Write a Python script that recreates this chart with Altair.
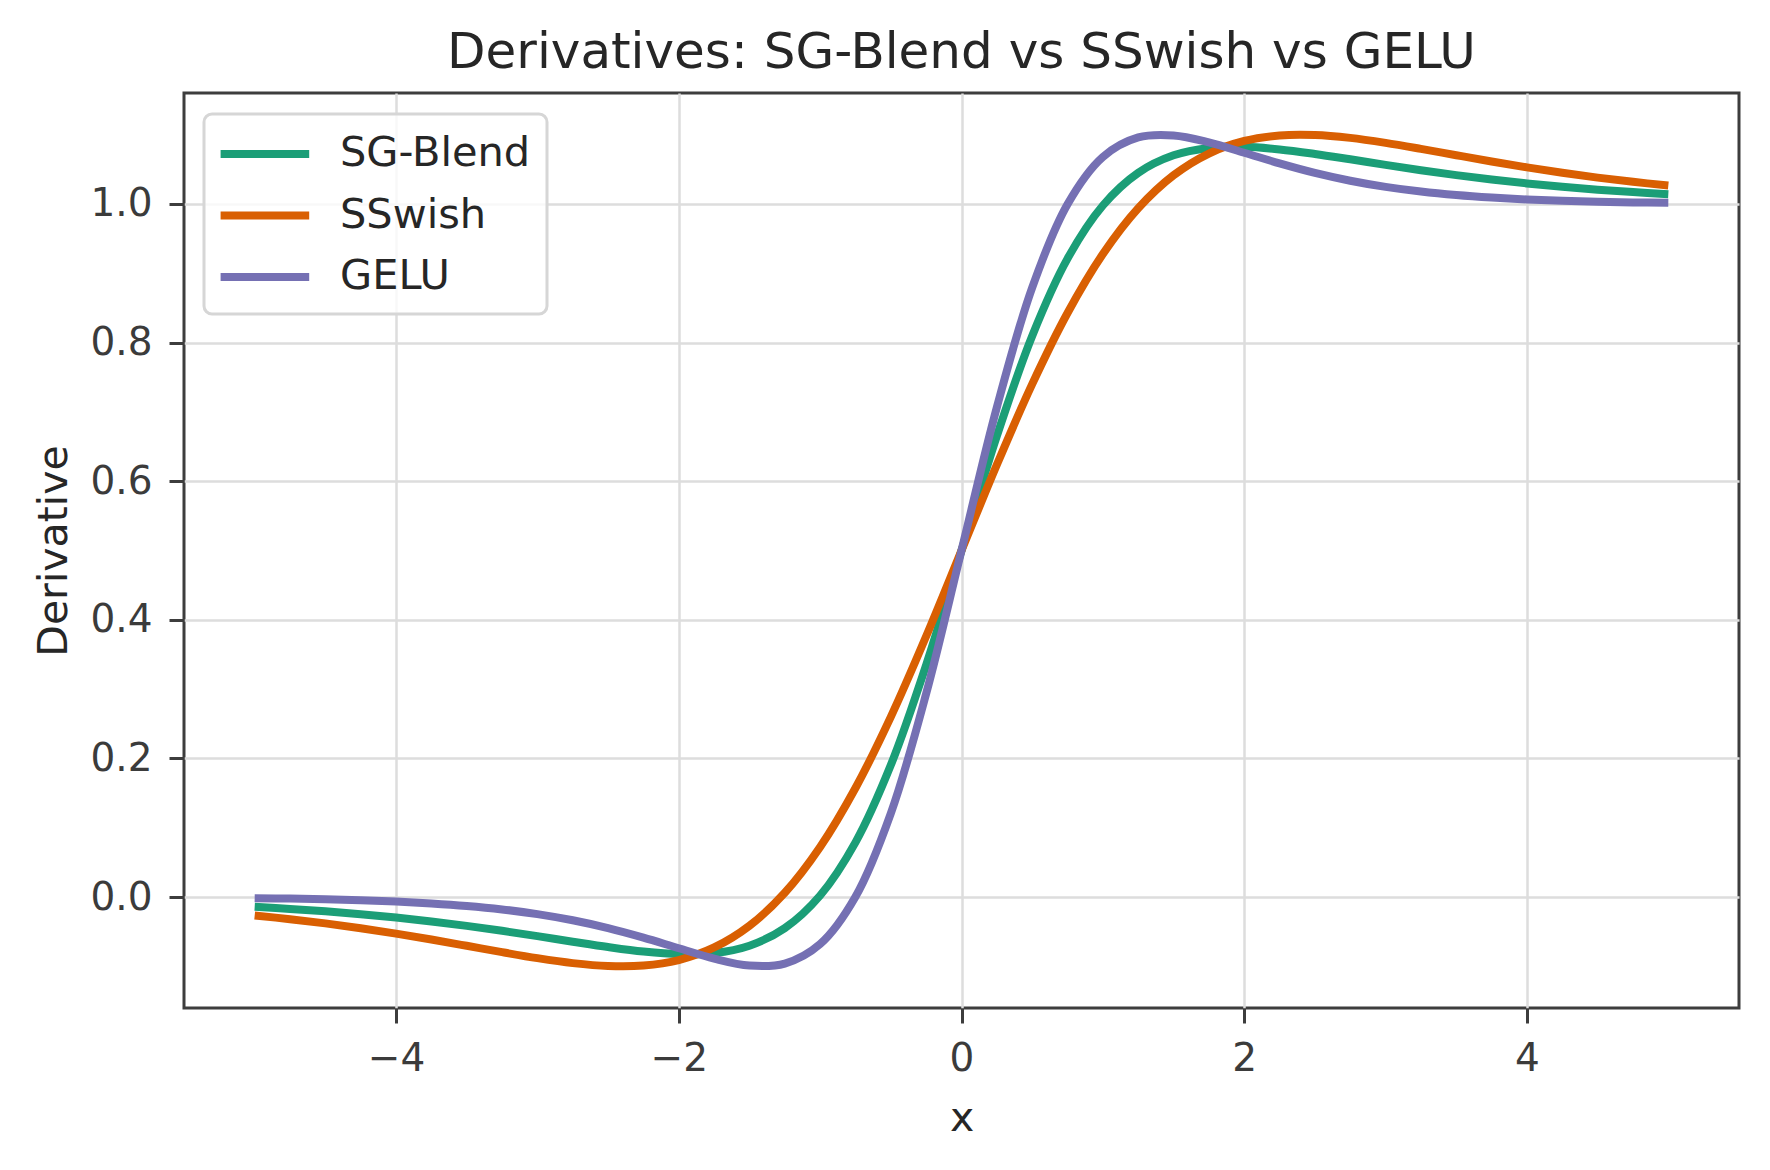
import altair as alt
import pandas as pd

X = [-5.0, -4.75, -4.5, -4.25, -4.0, -3.75, -3.5, -3.25, -3.0, -2.75, -2.5, -2.25,
     -2.0, -1.75, -1.5, -1.25, -1.0, -0.75, -0.5, -0.25, 0.0, 0.25, 0.5, 0.75,
     1.0, 1.25, 1.5, 1.75, 2.0, 2.25, 2.5, 2.75, 3.0, 3.25, 3.5, 3.75, 4.0,
     4.25, 4.5, 4.75, 5.0]

SG_BLEND = [-0.01403, -0.01702, -0.02053, -0.02468, -0.02954, -0.03516, -0.04151,
            -0.04863, -0.05633, -0.06433, -0.07206, -0.07858, -0.08231, -0.08074,
            -0.07007, -0.04481, 0.00227, 0.07891, 0.19041, 0.33490, 0.50000,
            0.66510, 0.80959, 0.92109, 0.99773, 1.04481, 1.07007, 1.08074,
            1.08231, 1.07858, 1.07206, 1.06433, 1.05633, 1.04863, 1.04151,
            1.03516, 1.02954, 1.02468, 1.02053, 1.01702, 1.01403]

SSWISH = [-0.02654, -0.03183, -0.03792, -0.04486, -0.05268, -0.06122, -0.07027,
          -0.07947, -0.08811, -0.09523, -0.09941, -0.09873, -0.09079, -0.07268,
          -0.04129, 0.00631, 0.07233, 0.15740, 0.26004, 0.37629, 0.50000,
          0.62371, 0.73996, 0.84260, 0.92767, 0.99369, 1.04129, 1.07268,
          1.09079, 1.09873, 1.09941, 1.09523, 1.08811, 1.07947, 1.07027,
          1.06122, 1.05268, 1.04486, 1.03792, 1.03183, 1.02654]

GELU = [-0.00151, -0.00220, -0.00313, -0.00449, -0.00639, -0.00909, -0.01275,
        -0.01778, -0.02454, -0.03343, -0.04470, -0.05843, -0.07382, -0.08880,
        -0.09885, -0.09592, -0.06778, 0.00043, 0.12078, 0.29351, 0.50000,
        0.70649, 0.87922, 0.99957, 1.06778, 1.09592, 1.09885, 1.08880,
        1.07382, 1.05843, 1.04470, 1.03343, 1.02454, 1.01778, 1.01275,
        1.00909, 1.00639, 1.00449, 1.00313, 1.00220, 1.00151]

SERIES = ["SG-Blend", "SSwish", "GELU"]
COLORS = ["#1b9e77", "#d95f02", "#7570b3"]
X_TICKS = [-4, -2, 0, 2, 4]
Y_TICKS = [0.0, 0.2, 0.4, 0.6, 0.8, 1.0]
TITLE = "Derivatives: SG-Blend vs SSwish vs GELU"

rows = []
for i, (name, vals) in enumerate(zip(SERIES, [SG_BLEND, SSWISH, GELU])):
    for xv, yv in zip(X, vals):
        rows.append({"x": xv, "value": yv, "series": name, "k": i})
df = pd.DataFrame(rows)

FONT = "DejaVu Sans"

chart = alt.Chart(df).mark_line(strokeWidth=8, interpolate="catmull-rom").encode(
    x=alt.X("x:Q",
            scale=alt.Scale(domain=[-5.5, 5.5], nice=False, zero=False),
            axis=alt.Axis(values=X_TICKS, title="x", format="d",
                          labelPadding=16, titlePadding=20)),
    y=alt.Y("value:Q",
            scale=alt.Scale(domain=[-0.16, 1.16], nice=False, zero=False),
            axis=alt.Axis(values=Y_TICKS, title="Derivative", format=".1f",
                          labelPadding=17, titlePadding=14)),
    color=alt.Color("series:N",
                    scale=alt.Scale(domain=SERIES, range=COLORS),
                    sort=SERIES,
                    legend=alt.Legend(title=None, orient="none",
                                      legendX=20, legendY=21,
                                      symbolType="M-1.17,0H3.26", symbolSize=1600,
                                      symbolStrokeWidth=8,
                                      labelFont=FONT, labelFontSize=41.5,
                                      labelColor="#262626", labelOffset=72,
                                      labelLimit=500,
                                      rowPadding=16.5, padding=16,
                                      fillColor="rgba(255,255,255,0.8)",
                                      strokeColor="#d6d6d6",
                                      cornerRadius=8)),
    order=alt.Order("k:Q"),
).properties(
    width=1555, height=915,
    title=alt.TitleParams(TITLE, font=FONT, fontSize=50, fontWeight="normal",
                          color="#262626", anchor="middle", offset=15),
    autosize=alt.AutoSizeParams(type="none"),
    padding={"left": 176, "top": 85, "right": 23, "bottom": 154},
).configure_view(
    stroke="#3d3d3d", strokeWidth=3
).configure_legend(
    strokeWidth=3
).configure_axis(
    domain=False,
    grid=True, gridColor="#dddddd", gridWidth=2.5,
    ticks=True, tickColor="#3d3d3d", tickWidth=3, tickSize=15,
    labelFont=FONT, labelFontSize=39, labelColor="#3b3b3b",
    titleFont=FONT, titleFontSize=41, titleFontWeight="normal", titleColor="#262626",
)

chart.save("out.html", embed_options={"renderer": "svg", "actions": False})
